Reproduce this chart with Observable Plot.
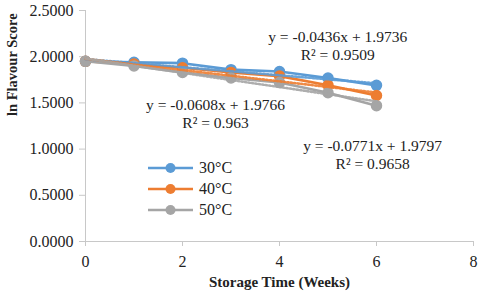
<!DOCTYPE html>
<html>
<head>
<meta charset="utf-8">
<script src="https://cdn.jsdelivr.net/npm/d3@7"></script>
<script src="https://cdn.jsdelivr.net/npm/@observablehq/plot@0.6"></script>
<style>
  body { margin: 0; background: #fff; }
  #wrap { position: relative; width: 480px; height: 298px; font-family: "Liberation Serif", "Times New Roman", serif; }
  #wrap svg text { font-family: "Liberation Serif", "Times New Roman", serif; }
  #legend { position: absolute; left: 148px; top: 157px; font-size: 16px; color: #222; }
  #legend .row { display: flex; align-items: center; height: 21px; }
  #legend svg { margin-right: 6px; }
</style>
</head>
<body>
<div id="wrap"></div>
<script>
// ---- data ----
const weeks = [0, 1, 2, 3, 4, 5, 6];
const series = ["30°C", "40°C", "50°C"];
const score30 = [1.95, 1.94, 1.93, 1.86, 1.84, 1.77, 1.69];
const score40 = [1.95, 1.92, 1.88, 1.83, 1.79, 1.69, 1.58];
const score50 = [1.95, 1.90, 1.83, 1.77, 1.72, 1.61, 1.47];
const slopes = [-0.0436, -0.0608, -0.0771];
const intercepts = [1.9736, 1.9766, 1.9797];
const r2 = ["0.9509", "0.963", "0.9658"];
const xTicks = [0, 2, 4, 6, 8];
const yTicks = [0, 0.5, 1.0, 1.5, 2.0, 2.5];

// ---- style ----
const serif = "'Liberation Serif', 'Times New Roman', serif";
const colors = ["#5B9BD5", "#ED7D31", "#A5A5A5"];
const labelPos = [[5.2, 2.12], [2.68, 1.385], [5.92, 0.947]];

const values = [score30, score40, score50];
const rows = [];
series.forEach((s, i) => weeks.forEach((w, j) => rows.push({series: s, x: w, y: values[i][j]})));
const trend = [];
series.forEach((s, i) => [weeks[0], weeks[weeks.length - 1]].forEach(w =>
  trend.push({series: s, x: w, y: intercepts[i] + slopes[i] * w})));
const labels = series.map((s, i) => ({
  text: `y = ${slopes[i].toFixed(4)}x + ${intercepts[i].toFixed(4)}\nR² = ${r2[i]}`,
  x: labelPos[i][0], y: labelPos[i][1]
}));

const marks = [
  Plot.ruleX([0], {stroke: "#c8c8c8"}),
  Plot.ruleY([0], {stroke: "#c8c8c8"}),
  Plot.axisY({ticks: yTicks, tickFormat: d3.format(".4f"), tickSize: 6, tickPadding: 6, stroke: "#c8c8c8", fontSize: 16, fontFamily: serif, fill: "#222", label: null}),
  Plot.axisX({ticks: xTicks, tickFormat: d3.format("d"), tickSize: 5, tickPadding: 9, stroke: "#c8c8c8", fontSize: 16, fontFamily: serif, fill: "#222", label: null})
];
series.forEach((s, i) => {
  const d = rows.filter(r => r.series === s);
  marks.push(Plot.line(d, {x: "x", y: "y", stroke: colors[i], strokeWidth: 2.6}));
  marks.push(Plot.dot(d, {x: "x", y: "y", r: 5, fill: colors[i], stroke: colors[i]}));
});
series.forEach((s, i) => {
  const d = trend.filter(r => r.series === s);
  marks.push(Plot.line(d, {x: "x", y: "y", stroke: colors[i], strokeWidth: 2.6, strokeDasharray: "1.5,2", strokeOpacity: 0.9}));
});
marks.push(Plot.text(labels, {x: "x", y: "y", text: "text", fontSize: 15.5, fontFamily: serif, lineHeight: 1.15, fill: "#222", textAnchor: "middle"}));
marks.push(Plot.text(["Storage Time (Weeks)"], {frameAnchor: "bottom", dy: 45, fontSize: 15, fontWeight: "bold", fontFamily: serif, fill: "#222"}));
marks.push(Plot.text(["ln Flavour Score"], {frameAnchor: "left", dx: -73, dy: -10, rotate: -90, fontSize: 14.5, fontWeight: "bold", fontFamily: serif, fill: "#222"}));

const chart = Plot.plot({
  width: 480,
  height: 298,
  marginLeft: 85,
  marginRight: 7,
  marginTop: 10,
  marginBottom: 57,
  x: {domain: [0, 8]},
  y: {domain: [0, 2.5]},
  style: {fontFamily: serif, background: "#fff", overflow: "visible"},
  marks
});
const wrap = document.getElementById("wrap");
wrap.appendChild(chart);

const legend = document.createElement("div");
legend.id = "legend";
series.forEach((s, i) => {
  const row = document.createElement("div");
  row.className = "row";
  row.innerHTML = `<svg width="45" height="12"><line x1="0" x2="45" y1="6" y2="6" stroke="${colors[i]}" stroke-width="2.6"/><circle cx="22.5" cy="6" r="5" fill="${colors[i]}"/></svg><span>${s}</span>`;
  legend.appendChild(row);
});
wrap.appendChild(legend);
</script>
</body>
</html>
